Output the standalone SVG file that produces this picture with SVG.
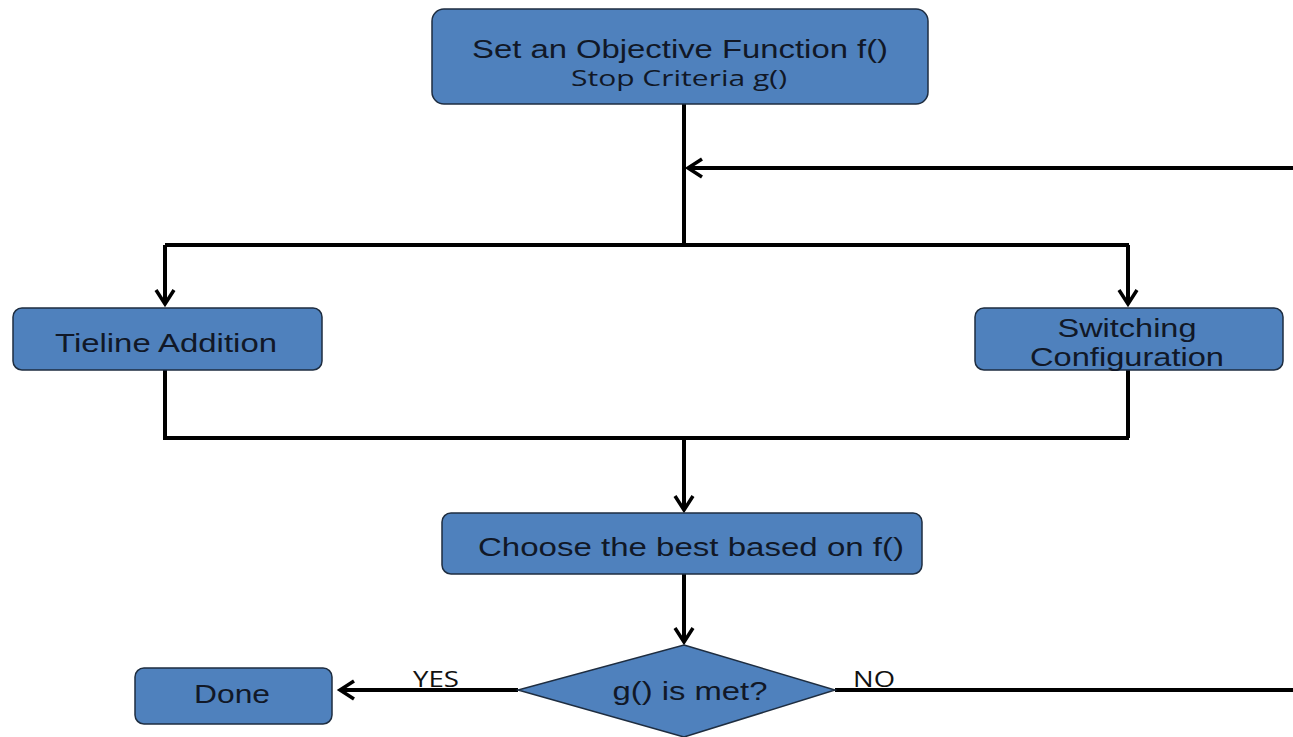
<svg xmlns="http://www.w3.org/2000/svg" width="1293" height="737" viewBox="0 0 1293 737">
  <style>
    .box { fill: #4f81bd; stroke: #1e2d40; stroke-width: 1.5; }
    .lbl { font-family: "Liberation Sans", Arial, sans-serif; font-size: 26px; fill: #111827; text-anchor: middle; }
    .lbl2 { font-family: "Open Sans", "Liberation Sans", sans-serif; font-size: 22px; fill: #111827; text-anchor: middle; }
    .tag { font-family: "Open Sans", "Liberation Sans", sans-serif; font-size: 21px; fill: #111; text-anchor: middle; }
    .wire { fill: none; stroke: #000; stroke-width: 4; }
  </style>
  <defs>
    <marker id="arr" markerUnits="userSpaceOnUse" viewBox="-16 -12 20 24" refX="0" refY="0" markerWidth="20" markerHeight="24" orient="auto">
      <path d="M -14 -9 L 0 0 L -14 9" fill="none" stroke="#000" stroke-width="3.5" stroke-linejoin="miter"/>
    </marker>
  </defs>
  <rect width="1293" height="737" fill="#ffffff"/>

  <g id="connectors">
    <path class="wire" d="M 684 104 V 245"/>
    <path class="wire" d="M 165 245 H 1129"/>
    <path class="wire" d="M 165 245 V 304" marker-end="url(#arr)"/>
    <path class="wire" d="M 1128 245 V 304" marker-end="url(#arr)"/>
    <path class="wire" d="M 1293 168 H 688" stroke-width="3" marker-end="url(#arr)"/>
    <path class="wire" d="M 165 370 V 438 H 1129"/>
    <path class="wire" d="M 1128 370 V 438"/>
    <path class="wire" d="M 684 438 V 510" marker-end="url(#arr)"/>
    <path class="wire" d="M 684 574 V 642" marker-end="url(#arr)"/>
    <path class="wire" d="M 518 690 H 340" stroke-width="3" marker-end="url(#arr)"/>
    <path class="wire" d="M 835 690 H 1293"/>
    <text class="tag" x="436" y="687" textLength="46" lengthAdjust="spacingAndGlyphs">YES</text>
    <text class="tag" x="874" y="687" textLength="42" lengthAdjust="spacingAndGlyphs">NO</text>
  </g>

  <g id="node-objective">
    <rect class="box" x="432" y="9" width="496" height="95" rx="12"/>
    <text class="lbl" x="680" y="58" textLength="416" lengthAdjust="spacingAndGlyphs">Set an Objective Function f()</text>
    <text class="lbl2" x="679" y="86" textLength="216" lengthAdjust="spacingAndGlyphs">Stop Criteria g()</text>
  </g>

  <g id="node-tieline">
    <rect class="box" x="13" y="308" width="309" height="62" rx="9"/>
    <text class="lbl" x="166" y="352" textLength="222" lengthAdjust="spacingAndGlyphs">Tieline Addition</text>
  </g>

  <g id="node-switching">
    <rect class="box" x="975" y="308" width="308" height="62" rx="9"/>
    <text class="lbl" x="1127" y="337" textLength="139" lengthAdjust="spacingAndGlyphs">Switching</text>
    <text class="lbl" x="1127" y="366" textLength="194" lengthAdjust="spacingAndGlyphs">Configuration</text>
  </g>

  <g id="node-choose">
    <rect class="box" x="442" y="513" width="480" height="61" rx="9"/>
    <text class="lbl" x="691" y="556" textLength="426" lengthAdjust="spacingAndGlyphs">Choose the best based on f()</text>
  </g>

  <g id="node-decision">
    <polygon class="box" points="684,645 835,690 684,737 518,690"/>
    <text class="lbl" x="690" y="700" textLength="155" lengthAdjust="spacingAndGlyphs">g() is met?</text>
  </g>

  <g id="node-done">
    <rect class="box" x="135" y="668" width="197" height="56" rx="9"/>
    <text class="lbl" x="232" y="703" textLength="76" lengthAdjust="spacingAndGlyphs">Done</text>
  </g>
</svg>
